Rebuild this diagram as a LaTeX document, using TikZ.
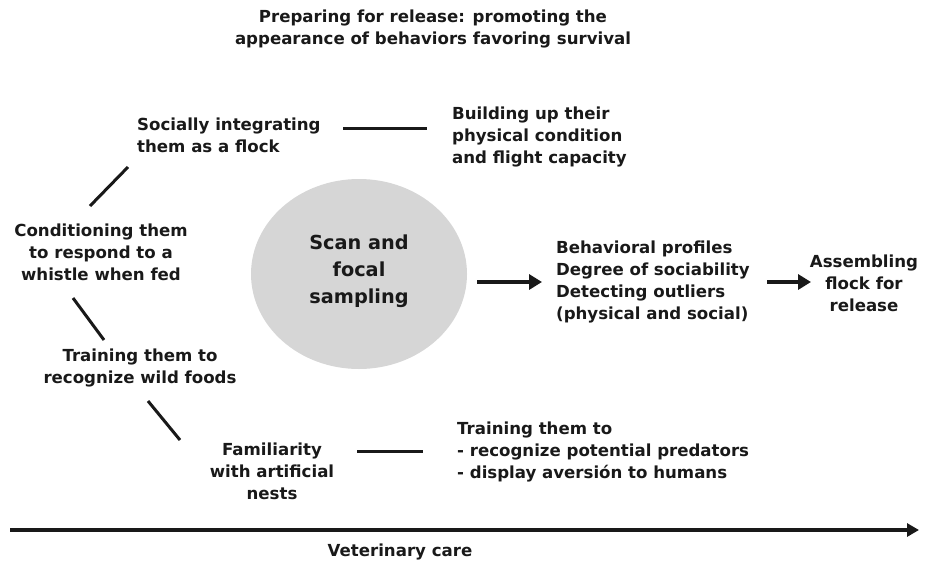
\documentclass[tikz,border=0pt]{standalone}
\usepackage{fontspec}
\setmainfont{DejaVu Sans}
\usetikzlibrary{arrows.meta,shapes.geometric}
\begin{document}
\begin{tikzpicture}[x=1pt,y=-1pt,
  txt/.style={font=\bfseries\fontsize{16.6}{22}\selectfont, inner sep=0pt, text=black!90},
  big/.style={font=\bfseries\fontsize{19.3}{27}\selectfont, inner sep=0pt, align=center, text=black!90},
  conn/.style={line width=3pt, black!90},
  bigarrow/.style={line width=4.5pt, black!90, -{Triangle[length=13pt,width=15pt]}},
  axis/.style={line width=3.8pt, black!90, -{Triangle[length=12pt,width=13pt]}}]
\useasboundingbox (0,0) rectangle (928,565);
\node[txt, align=center] (title) at (433,29) {Preparing for release: promoting the\\appearance of behaviors favoring survival};
\node[txt, align=left, anchor=west] (soc) at (137,135) {Socially integrating\\them as a flock};
\node[txt, align=left, anchor=west] (build) at (452,137) {Building up their\\physical condition\\and flight capacity};
\node[txt, align=center] (cond) at (101,252) {Conditioning them\\to respond to a\\whistle when fed};
\node[txt, align=center] (train) at (140,368) {Training them to\\recognize wild foods};
\node[txt, align=center] (fam) at (272,471) {Familiarity\\with artificial\\nests};
\node[txt, align=left, anchor=west] (pred) at (457,452) {Training them to\\- recognize potential predators\\- display aversión to humans};
\node[ellipse, draw=none, fill=black!16, minimum width=216pt, minimum height=190pt] (scan) at (359,274) {};
\node[big] (scantxt) at (359,271) {Scan and\\focal\\sampling};
\node[txt, align=left, anchor=west] (prof) at (556,281.5) {Behavioral profiles\\Degree of sociability\\Detecting outliers\\(physical and social)};
\node[txt, align=center] (assem) at (864,283) {Assembling\\flock for\\release};
\node[txt] (vet) at (400,552) {Veterinary care};
% connector end points
\coordinate (c1a) at (343,128); \coordinate (c1b) at (427,128);
\coordinate (c2a) at (128,167); \coordinate (c2b) at (90,206);
\coordinate (c3a) at (73,298);  \coordinate (c3b) at (104,340);
\coordinate (c4a) at (148,401); \coordinate (c4b) at (180,440);
\coordinate (c5a) at (357,451); \coordinate (c5b) at (423,451);
\coordinate (a1a) at (477,282); \coordinate (a1b) at (542,282);
\coordinate (a2a) at (767,282); \coordinate (a2b) at (811,282);
\coordinate (ta) at (10,530); \coordinate (tb) at (919,530);
\draw[conn] (c1a) -- (c1b);
\draw[conn] (c2a) -- (c2b);
\draw[conn] (c3a) -- (c3b);
\draw[conn] (c4a) -- (c4b);
\draw[conn] (c5a) -- (c5b);
\draw[bigarrow] (a1a) -- (a1b);
\draw[bigarrow] (a2a) -- (a2b);
\draw[axis] (ta) -- (tb);
\end{tikzpicture}
\end{document}
